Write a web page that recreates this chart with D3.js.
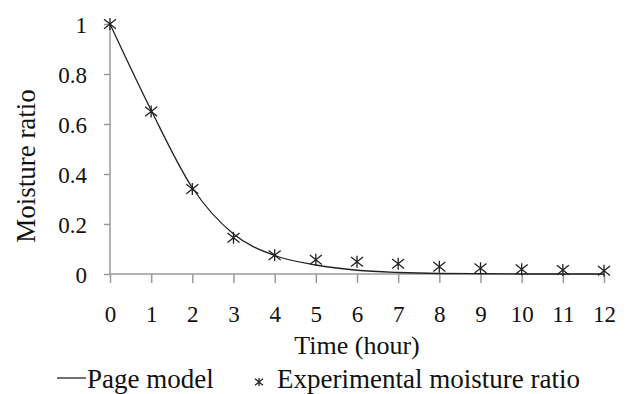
<!DOCTYPE html>
<html>
<head>
<meta charset="utf-8">
<script src="https://cdn.jsdelivr.net/npm/d3@7"></script>
<style>
  body { margin: 0; background: #fff; }
  text { font-family: "Liberation Serif", "Times New Roman", serif; fill: #111; }
</style>
</head>
<body>
<div id="chart"></div>
<script>
const hours = [0, 1, 2, 3, 4, 5, 6, 7, 8, 9, 10, 11, 12];
const pageModel = [1, 0.655, 0.345, 0.16, 0.074, 0.036, 0.015, 0.006, 0.002, 0.001, 0, 0, 0];
const experimental = [1, 0.65, 0.34, 0.145, 0.075, 0.057, 0.049, 0.041, 0.029, 0.023, 0.019, 0.016, 0.013];
const yTicks = [0, 0.2, 0.4, 0.6, 0.8, 1];

const width = 627, height = 394;
const margin = { top: 24, right: 23, bottom: 120, left: 110 };

const svg = d3.select('#chart')
    .append('svg')
    .attr('width', width)
    .attr('height', height);

const x = d3.scaleLinear()
    .domain([0, 12])
    .range([margin.left, width - margin.right]);

const y = d3.scaleLinear()
    .domain([0, 1])
    .range([height - margin.bottom, margin.top]);

// axes
const xAxis = svg.append('g')
    .attr('transform', `translate(0,${y(0)})`)
    .call(d3.axisBottom(x).tickValues(hours).tickSize(9).tickPadding(23).tickFormat(d3.format('d')));

const yAxis = svg.append('g')
    .attr('transform', `translate(${x(0)},0)`)
    .call(d3.axisLeft(y).tickValues(yTicks).tickSize(6).tickPadding(17)
        .tickFormat(d => d === 0 || d === 1 ? d : d3.format('.1f')(d)));

[xAxis, yAxis].forEach(a => {
    a.select('.domain').attr('stroke', '#9a9a9a').attr('stroke-width', 1.5);
    a.selectAll('.tick line').attr('stroke', '#9a9a9a').attr('stroke-width', 1.5);
    a.selectAll('.tick text').attr('font-size', 23).attr('fill', '#111');
});
// no outer tick stubs on the domain paths
xAxis.select('.domain').attr('d', `M${x(0)},0H${x(12)}`);
yAxis.select('.domain').attr('d', `M0,${y(0)}V${y(1)}`);
yAxis.selectAll('.tick text').attr('dy', '0.36em');

// model curve
const line = d3.line()
    .x((d, i) => x(hours[i]))
    .y(d => y(d))
    .curve(d3.curveMonotoneX);

svg.append('path')
    .datum(pageModel)
    .attr('d', line)
    .attr('fill', 'none')
    .attr('stroke', '#222')
    .attr('stroke-width', 1.3);

// asterisk markers
function asterisk(sel, s) {
    sel.append('path')
        .attr('d', `M${-s},${-s * 0.8}L${s},${s * 0.8}M${-s},${s * 0.8}L${s},${-s * 0.8}M0,${-s}V${s}`)
        .attr('stroke', '#222')
        .attr('stroke-width', 1.3)
        .attr('fill', 'none');
}

svg.selectAll('.pt')
    .data(experimental)
    .enter()
    .append('g')
    .attr('class', 'pt')
    .attr('transform', (d, i) => `translate(${x(hours[i])},${y(d)})`)
    .call(asterisk, 6);

// axis titles
svg.append('text')
    .attr('x', 357)
    .attr('y', 354)
    .attr('text-anchor', 'middle')
    .attr('font-size', 26)
    .text('Time (hour)');

svg.append('text')
    .attr('transform', 'translate(35,166) rotate(-90)')
    .attr('text-anchor', 'middle')
    .attr('font-size', 27)
    .text('Moisture ratio');

// legend
const legend = svg.append('g');
legend.append('line')
    .attr('x1', 57).attr('x2', 86)
    .attr('y1', 378).attr('y2', 378)
    .attr('stroke', '#222')
    .attr('stroke-width', 1.3);
legend.append('text')
    .attr('x', 87)
    .attr('y', 388)
    .attr('font-size', 27)
    .text('Page model');
legend.append('g')
    .attr('transform', 'translate(259,382)')
    .call(asterisk, 4);
legend.append('text')
    .attr('x', 277)
    .attr('y', 388)
    .attr('font-size', 27)
    .text('Experimental moisture ratio');
</script>
</body>
</html>
